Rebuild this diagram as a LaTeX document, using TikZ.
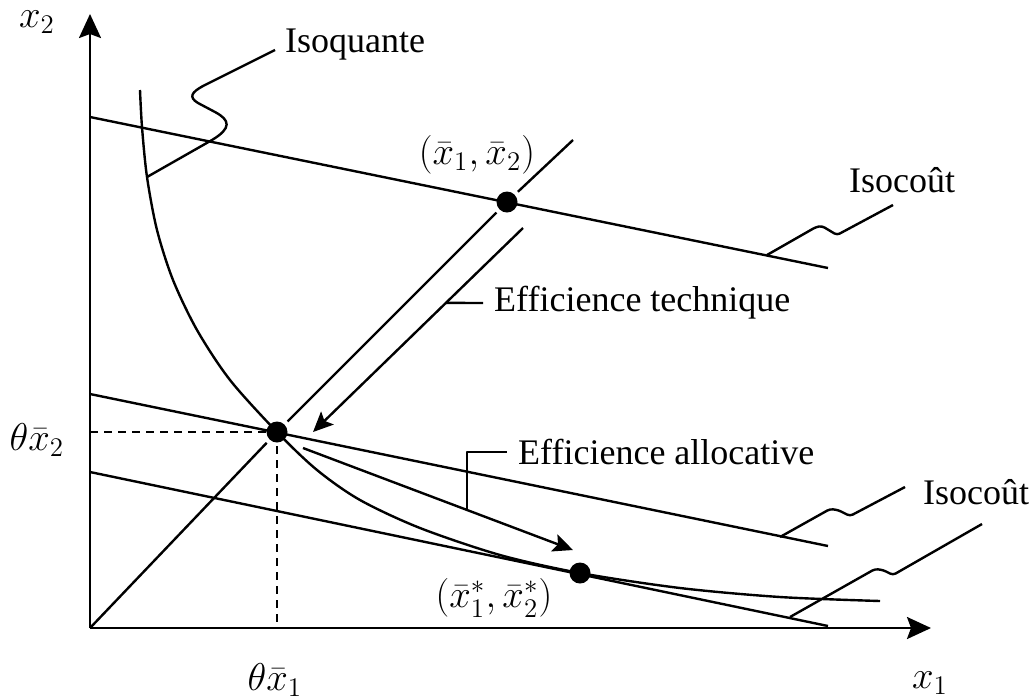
\documentclass[tikz,border=0pt]{standalone}
\usepackage[no-math]{fontspec}
\setmainfont{Liberation Serif}
\usetikzlibrary{arrows.meta,calc}
\newcommand{\mylabelmath}[1]{\scalebox{1.12}{$#1$}}
\begin{document}
\begin{tikzpicture}[x=0.5pt,y=-0.5pt, line width=1.2pt, line join=round,
  lbl/.style={font=\fontsize{18}{20}\selectfont, inner sep=0pt},
  mlbl/.style={font=\fontsize{18}{20}\selectfont, inner sep=0pt},
  dot/.style={circle,fill,inner sep=0pt,minimum size=10.5pt},
  axis/.style={-{Stealth[length=12pt,width=11pt,inset=2pt]}},
  eff/.style={-{Stealth[length=10pt,width=9pt,inset=2pt]}},
  dsh/.style={dash pattern=on 4pt off 3pt}]
\useasboundingbox (0,0) rectangle (1032,698);

% axes
\coordinate (O) at (90,628);
\coordinate (Ytip) at (90,14);
\coordinate (Xtip) at (931,628);
\draw[axis] (O) -- (Ytip);
\draw[axis] (O) -- (Xtip);
\node[mlbl] (x2) at (37,22) {\mylabelmath{x_2}};
\node[mlbl] (x1) at (930,683) {\mylabelmath{x_1}};

% dots
\node[dot] (hi) at (507,202) {};
\node[dot] (lo) at (277,432) {};
\node[dot] (opt) at (580,573) {};

% isocost lines
\coordinate (c1a) at (90,117);  \coordinate (c1b) at (828,268);
\coordinate (c2a) at (90,394);  \coordinate (c2b) at (828,546);
\coordinate (c3a) at (90,472);  \coordinate (c3b) at (828,626);
\draw (c1a) -- (c1b);
\draw (c2a) -- (c2b);
\draw (c3a) -- (c3b);

% ray from origin
\coordinate (rayend) at (573,140);
\draw (O) -- ($(lo)!7.5pt!(O)$);
\draw ($(lo)!7.5pt!(hi)$) -- ($(hi)!7.5pt!(lo)$);
\draw ($(hi)!7.5pt!(rayend)$) -- (rayend);

% dashed projections
\coordinate (y2p) at (90,432);
\coordinate (x1p) at (277,628);
\draw[dsh] (y2p) -- (lo.center);
\draw[dsh] (lo.center) -- (x1p);
\node[mlbl] (tx2) at (37,440) {\mylabelmath{\theta\bar{x}_2}};
\node[mlbl] (tx1) at (275,680) {\mylabelmath{\theta\bar{x}_1}};

% isoquant
\draw plot[smooth,tension=0.5] coordinates {(140,90) (142,127) (147,177) (157,230) (173,280) (197,330) (230,380) (277,432) (317,470) (360,500) (420,528) (500,555) (580,573) (680,588) (780,597) (880,601)};

% point labels
\node[mlbl] (hil) at (477,155) {\mylabelmath{(\bar{x}_1,\bar{x}_2)}};
\node[mlbl] (optl) at (494,598) {\mylabelmath{(\bar{x}_1^{*},\bar{x}_2^{*})}};

% technical efficiency
\coordinate (et1) at (523,228);
\coordinate (et2) at (313,432);
\draw[eff] (et1) -- (et2);
\node[lbl,anchor=west] (etl) at (493,303) {Efficience technique};
\draw ($(et1)!0.367!(et2)$) -- ($(etl.west)+(-10,0)$);

% allocative efficiency
\coordinate (ea1) at (303,448);
\coordinate (ea2) at (573,550);
\draw[eff] (ea1) -- (ea2);
\node[lbl,anchor=west] (eal) at (517,452) {Efficience allocative};
\draw ($(ea1)!0.607!(ea2)$) |- ($(eal.west)+(-10,0)$);

% Isoquante pointer
\node[lbl,anchor=west] (isoq) at (284,45) {Isoquante};
\coordinate (q0) at (147,177);
\draw (q0) -- (212,140) .. controls (232,128) and (230,120) .. (215,112) -- (198,103) .. controls (188,97) and (192,92) .. (203,86) -- ($(isoq.west)+(-9,5)$);

% Isocout pointers
\node[lbl,anchor=west] (ic1) at (848,180) {Isocoût};
\node[lbl,anchor=west] (ic2) at (922,492) {Isocoût};
\coordinate (p1) at (767,255);
\coordinate (p2) at (780,537);
\coordinate (p3) at (790,617);
\draw[rounded corners=1.5pt] (p1) -- (816,227) -- (822,226) -- (837,235) -- (893,205);
\draw[rounded corners=1.5pt] (p2) -- (830,509) -- (838,510) -- (850,516) -- (905,487);
\draw[rounded corners=1.5pt] (p3) -- (875,569) -- (883,570) -- (893,575) -- (982,524);
\end{tikzpicture}
\end{document}
